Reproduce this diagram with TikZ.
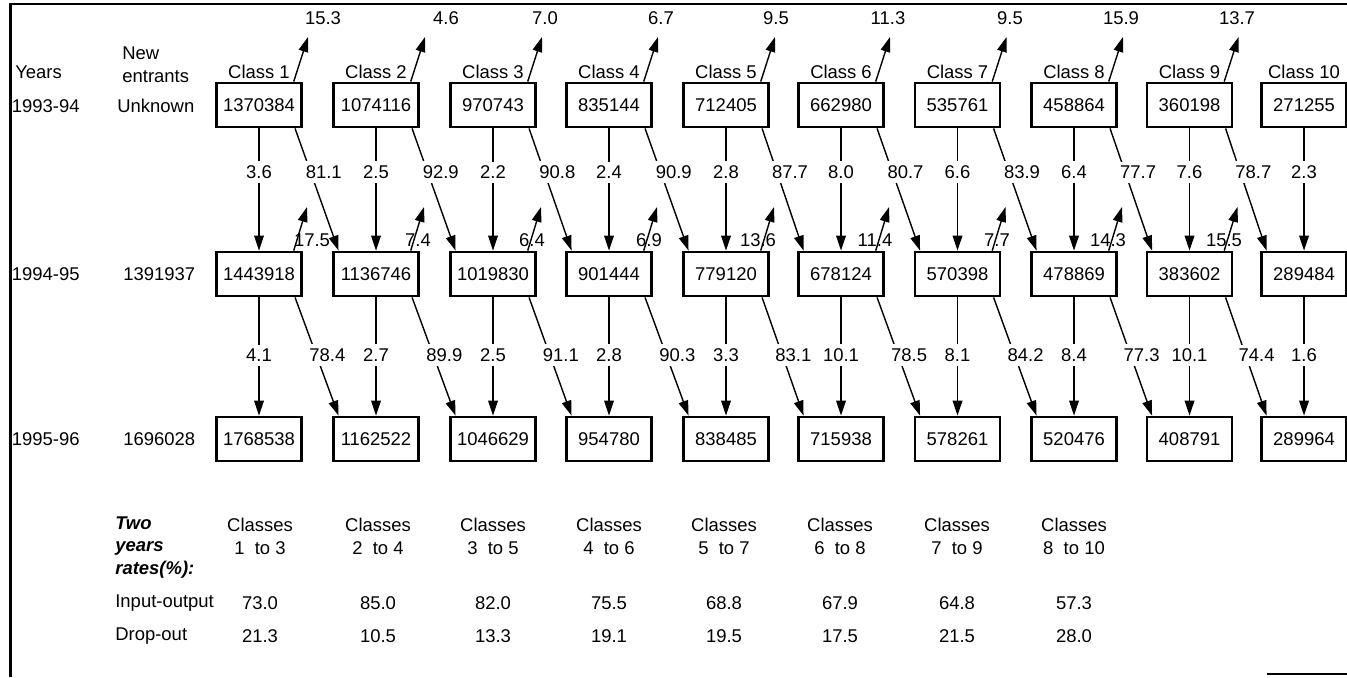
\documentclass[tikz,border=0pt]{standalone}
\usepackage{fontspec}
\setmainfont{Liberation Sans}
\usetikzlibrary{arrows.meta, calc}

\begin{document}
\begin{tikzpicture}[font=\fontsize{10.5}{13}\selectfont,
  cnt/.style={draw, line width=1.6pt, minimum width=1.7cm, minimum height=0.88cm, inner sep=1pt},
  flow/.style={line width=0.8pt, -{Triangle[length=8.5pt, width=5.5pt]}},
  rate/.style={fill=white, inner sep=2.5pt},
  side/.style={anchor=west, inner sep=0pt}]
  \useasboundingbox (0,0) rectangle (26.94,-13.54);

  % Frame
  \draw[line width=1.2pt] (0.21,-13.54) -- (0.21,-0.08) -- (26.94,-0.08);
  \draw[line width=0.6pt] (25.34,-13.48) -- (26.94,-13.48);

  % Headings
  \node[side] (yrs) at (0.30,-1.44) {Years};
  \node[side, align=left] (new) at (2.44,-1.30) {New\\entrants};
  \node[side] (y1) at (0.23,-2.12) {1993-94};
  \node[side] (y2) at (0.23,-5.48) {1994-95};
  \node[side] (y3) at (0.23,-8.78) {1995-96};
  \node[side] (n1) at (2.34,-2.12) {Unknown};
  \node[side] (n2) at (2.46,-5.48) {1391937};
  \node[side] (n3) at (2.46,-8.78) {1696028};

  \node (h1)  at (5.18,-1.44)  {Class 1};
  \node (h2)  at (7.52,-1.44)  {Class 2};
  \node (h3)  at (9.86,-1.44)  {Class 3};
  \node (h4)  at (12.18,-1.44) {Class 4};
  \node (h5)  at (14.52,-1.44) {Class 5};
  \node (h6)  at (16.82,-1.44) {Class 6};
  \node (h7)  at (19.15,-1.44) {Class 7};
  \node (h8)  at (21.48,-1.44) {Class 8};
  \node (h9)  at (23.79,-1.44) {Class 9};
  \node (h10) at (26.08,-1.44) {Class 10};

  % Enrolment 1993-94
  \node[cnt] (c1a)  at (5.18,-2.10)  {1370384};
  \node[cnt] (c2a)  at (7.52,-2.10)  {1074116};
  \node[cnt] (c3a)  at (9.86,-2.10)  {970743};
  \node[cnt] (c4a)  at (12.18,-2.10) {835144};
  \node[cnt] (c5a)  at (14.52,-2.10) {712405};
  \node[cnt] (c6a)  at (16.82,-2.10) {662980};
  \node[cnt] (c7a)  at (19.15,-2.10) {535761};
  \node[cnt] (c8a)  at (21.48,-2.10) {458864};
  \node[cnt] (c9a)  at (23.79,-2.10) {360198};
  \node[cnt] (c10a) at (26.08,-2.10) {271255};

  % Enrolment 1994-95
  \node[cnt] (c1b)  at (5.18,-5.48)  {1443918};
  \node[cnt] (c2b)  at (7.52,-5.48)  {1136746};
  \node[cnt] (c3b)  at (9.86,-5.48)  {1019830};
  \node[cnt] (c4b)  at (12.18,-5.48) {901444};
  \node[cnt] (c5b)  at (14.52,-5.48) {779120};
  \node[cnt] (c6b)  at (16.82,-5.48) {678124};
  \node[cnt] (c7b)  at (19.15,-5.48) {570398};
  \node[cnt] (c8b)  at (21.48,-5.48) {478869};
  \node[cnt] (c9b)  at (23.79,-5.48) {383602};
  \node[cnt] (c10b) at (26.08,-5.48) {289484};

  % Enrolment 1995-96
  \node[cnt] (c1c)  at (5.18,-8.78)  {1768538};
  \node[cnt] (c2c)  at (7.52,-8.78)  {1162522};
  \node[cnt] (c3c)  at (9.86,-8.78)  {1046629};
  \node[cnt] (c4c)  at (12.18,-8.78) {954780};
  \node[cnt] (c5c)  at (14.52,-8.78) {838485};
  \node[cnt] (c6c)  at (16.82,-8.78) {715938};
  \node[cnt] (c7c)  at (19.15,-8.78) {578261};
  \node[cnt] (c8c)  at (21.48,-8.78) {520476};
  \node[cnt] (c9c)  at (23.79,-8.78) {408791};
  \node[cnt] (c10c) at (26.08,-8.78) {289964};

  % Drop-out 1993-94
  \coordinate (x1a) at (6.16,-0.74);  \draw[flow] (c1a.34) -- (x1a); \node (r1a) at (6.46,-0.36)  {15.3};
  \coordinate (x2a) at (8.50,-0.74);  \draw[flow] (c2a.34) -- (x2a); \node (r2a) at (8.92,-0.36)  {4.6};
  \coordinate (x3a) at (10.84,-0.74); \draw[flow] (c3a.34) -- (x3a); \node (r3a) at (10.90,-0.36) {7.0};
  \coordinate (x4a) at (13.16,-0.74); \draw[flow] (c4a.34) -- (x4a); \node (r4a) at (13.22,-0.36) {6.7};
  \coordinate (x5a) at (15.50,-0.74); \draw[flow] (c5a.34) -- (x5a); \node (r5a) at (15.52,-0.36) {9.5};
  \coordinate (x6a) at (17.80,-0.74); \draw[flow] (c6a.34) -- (x6a); \node (r6a) at (17.76,-0.36) {11.3};
  \coordinate (x7a) at (20.13,-0.74); \draw[flow] (c7a.34) -- (x7a); \node (r7a) at (20.20,-0.36) {9.5};
  \coordinate (x8a) at (22.46,-0.74); \draw[flow] (c8a.34) -- (x8a); \node (r8a) at (22.42,-0.36) {15.9};
  \coordinate (x9a) at (24.77,-0.74); \draw[flow] (c9a.34) -- (x9a); \node (r9a) at (24.74,-0.36) {13.7};

  % Drop-out 1994-95
  \coordinate (x1b) at (6.14,-4.14);  \draw[flow] (c1b.34) -- (x1b); \node (r1b) at (6.24,-4.80)  {17.5};
  \coordinate (x2b) at (8.48,-4.14);  \draw[flow] (c2b.34) -- (x2b); \node (r2b) at (8.36,-4.80)  {7.4};
  \coordinate (x3b) at (10.82,-4.14); \draw[flow] (c3b.34) -- (x3b); \node (r3b) at (10.64,-4.80) {6.4};
  \coordinate (x4b) at (13.14,-4.14); \draw[flow] (c4b.34) -- (x4b); \node (r4b) at (12.98,-4.80) {6.9};
  \coordinate (x5b) at (15.48,-4.14); \draw[flow] (c5b.34) -- (x5b); \node (r5b) at (15.16,-4.80) {13.6};
  \coordinate (x6b) at (17.78,-4.14); \draw[flow] (c6b.34) -- (x6b); \node (r6b) at (17.50,-4.80) {11.4};
  \coordinate (x7b) at (20.11,-4.14); \draw[flow] (c7b.34) -- (x7b); \node (r7b) at (19.94,-4.80) {7.7};
  \coordinate (x8b) at (22.44,-4.14); \draw[flow] (c8b.34) -- (x8b); \node (r8b) at (22.16,-4.80) {14.3};
  \coordinate (x9b) at (24.75,-4.14); \draw[flow] (c9b.34) -- (x9b); \node (r9b) at (24.48,-4.80) {15.5};

  % Repetition 1993-94 to 1994-95
  \draw[flow] (c1a) -- node[rate, pos=.36] {3.6} (c1b);
  \draw[flow] (c2a) -- node[rate, pos=.36] {2.5} (c2b);
  \draw[flow] (c3a) -- node[rate, pos=.36] {2.2} (c3b);
  \draw[flow] (c4a) -- node[rate, pos=.36] {2.4} (c4b);
  \draw[flow] (c5a) -- node[rate, pos=.36] {2.8} (c5b);
  \draw[flow] (c6a) -- node[rate, pos=.36] {8.0} (c6b);
  \draw[flow] (c7a) -- node[rate, pos=.36] {6.6} (c7b);
  \draw[flow] (c8a) -- node[rate, pos=.36] {6.4} (c8b);
  \draw[flow] (c9a) -- node[rate, pos=.36] {7.6} (c9b);
  \draw[flow] (c10a) -- node[rate, pos=.36] {2.3} (c10b);

  % Promotion 1993-94 to 1994-95
  \draw[flow] (c1a.-33) -- node[rate, pos=.36, xshift=0.26cm] {81.1} (c2b.148);
  \draw[flow] (c2a.-33) -- node[rate, pos=.36, xshift=0.26cm] {92.9} (c3b.148);
  \draw[flow] (c3a.-33) -- node[rate, pos=.36, xshift=0.26cm] {90.8} (c4b.148);
  \draw[flow] (c4a.-33) -- node[rate, pos=.36, xshift=0.26cm] {90.9} (c5b.148);
  \draw[flow] (c5a.-33) -- node[rate, pos=.36, xshift=0.26cm] {87.7} (c6b.148);
  \draw[flow] (c6a.-33) -- node[rate, pos=.36, xshift=0.26cm] {80.7} (c7b.148);
  \draw[flow] (c7a.-33) -- node[rate, pos=.36, xshift=0.26cm] {83.9} (c8b.148);
  \draw[flow] (c8a.-33) -- node[rate, pos=.36, xshift=0.26cm] {77.7} (c9b.148);
  \draw[flow] (c9a.-33) -- node[rate, pos=.36, xshift=0.26cm] {78.7} (c10b.148);

  % Repetition 1994-95 to 1995-96
  \draw[flow] (c1b) -- node[rate, pos=.49] {4.1} (c1c);
  \draw[flow] (c2b) -- node[rate, pos=.49] {2.7} (c2c);
  \draw[flow] (c3b) -- node[rate, pos=.49] {2.5} (c3c);
  \draw[flow] (c4b) -- node[rate, pos=.49] {2.8} (c4c);
  \draw[flow] (c5b) -- node[rate, pos=.49] {3.3} (c5c);
  \draw[flow] (c6b) -- node[rate, pos=.49] {10.1} (c6c);
  \draw[flow] (c7b) -- node[rate, pos=.49] {8.1} (c7c);
  \draw[flow] (c8b) -- node[rate, pos=.49] {8.4} (c8c);
  \draw[flow] (c9b) -- node[rate, pos=.49] {10.1} (c9c);
  \draw[flow] (c10b) -- node[rate, pos=.49] {1.6} (c10c);

  % Promotion 1994-95 to 1995-96
  \draw[flow] (c1b.-33) -- node[rate, pos=.49, xshift=0.22cm] {78.4} (c2c.148);
  \draw[flow] (c2b.-33) -- node[rate, pos=.49, xshift=0.22cm] {89.9} (c3c.148);
  \draw[flow] (c3b.-33) -- node[rate, pos=.49, xshift=0.22cm] {91.1} (c4c.148);
  \draw[flow] (c4b.-33) -- node[rate, pos=.49, xshift=0.22cm] {90.3} (c5c.148);
  \draw[flow] (c5b.-33) -- node[rate, pos=.49, xshift=0.22cm] {83.1} (c6c.148);
  \draw[flow] (c6b.-33) -- node[rate, pos=.49, xshift=0.22cm] {78.5} (c7c.148);
  \draw[flow] (c7b.-33) -- node[rate, pos=.49, xshift=0.22cm] {84.2} (c8c.148);
  \draw[flow] (c8b.-33) -- node[rate, pos=.49, xshift=0.22cm] {77.3} (c9c.148);
  \draw[flow] (c9b.-33) -- node[rate, pos=.49, xshift=0.22cm] {74.4} (c10c.148);

  % Two years rates
  \node[side, align=left, font=\fontsize{10.5}{12.8}\selectfont\bfseries\itshape] (two) at (2.30,-10.95) {Two\\years\\rates(\%):};
  \node[align=center] (t1) at (5.20,-10.73)  {Classes\\1\ \ to 3};
  \node[align=center] (t2) at (7.56,-10.73)  {Classes\\2\ \ to 4};
  \node[align=center] (t3) at (9.86,-10.73)  {Classes\\3\ \ to 5};
  \node[align=center] (t4) at (12.18,-10.73) {Classes\\4\ \ to 6};
  \node[align=center] (t5) at (14.48,-10.73) {Classes\\5\ \ to 7};
  \node[align=center] (t6) at (16.80,-10.73) {Classes\\6\ \ to 8};
  \node[align=center] (t7) at (19.14,-10.73) {Classes\\7\ \ to 9};
  \node[align=center] (t8) at (21.48,-10.73) {Classes\\8\ \ to 10};

  \node[side] (io) at (2.30,-12.06) {Input-output};
  \node (io1) at (5.20,-12.06)  {73.0};
  \node (io2) at (7.56,-12.06)  {85.0};
  \node (io3) at (9.86,-12.06)  {82.0};
  \node (io4) at (12.18,-12.06) {75.5};
  \node (io5) at (14.48,-12.06) {68.8};
  \node (io6) at (16.80,-12.06) {67.9};
  \node (io7) at (19.14,-12.06) {64.8};
  \node (io8) at (21.48,-12.06) {57.3};

  \node[side] (drop) at (2.30,-12.72) {Drop-out};
  \node (dr1) at (5.20,-12.72)  {21.3};
  \node (dr2) at (7.56,-12.72)  {10.5};
  \node (dr3) at (9.86,-12.72)  {13.3};
  \node (dr4) at (12.18,-12.72) {19.1};
  \node (dr5) at (14.48,-12.72) {19.5};
  \node (dr6) at (16.80,-12.72) {17.5};
  \node (dr7) at (19.14,-12.72) {21.5};
  \node (dr8) at (21.48,-12.72) {28.0};
\end{tikzpicture}
\end{document}
